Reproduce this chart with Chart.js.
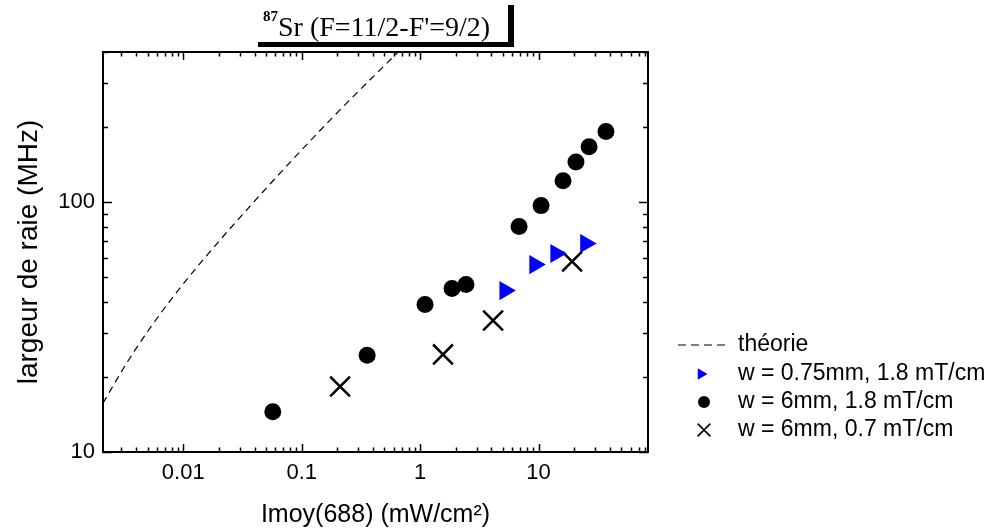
<!DOCTYPE html>
<html>
<head>
<meta charset="utf-8">
<script src="https://cdn.jsdelivr.net/npm/chart.js@4.4.0/dist/chart.umd.min.js"></script>
<style>
    html, body { margin: 0; padding: 0; background: #fff; }
    #wrap { position: relative; width: 992px; height: 532px; }
    #titre {
        position: absolute; left: 252px; top: 0; width: 256px; height: 42px;
        background: #fff; box-shadow: 6px 5px 0 #000; z-index: 2;
        font-family: "Liberation Serif", "Times New Roman", serif; color: #000;
    }
    #titre span.txt { position: absolute; left: 11px; top: 11px; font-size: 28px; line-height: 32px; white-space: nowrap; }
    #titre span.iso { font-size: 15px; font-weight: bold; position: relative; top: -15px; }
</style>
</head>
<body>
<div id="wrap">
    <div id="titre"><span class="txt"><span class="iso">87</span>Sr (F=11/2-F'=9/2)</span></div>
    <canvas id="graphe" width="992" height="532"></canvas>
</div>
<script>
// données
const theorieX = [0.0021, 0.00329, 0.00525, 0.0094, 0.0159, 0.0541, 0.184, 0.652];
const theorieY = [15.7, 22.5, 31.4, 45.4, 61.5, 118.4, 219.6, 400];

const triX = [5.2, 9.3, 14.0, 25.0];
const triY = [44.3, 56.3, 62.4, 68.4];

const cercleX = [0.057, 0.357, 1.10, 1.86, 2.44, 6.85, 10.5, 16.1, 20.7, 26.7, 37.1];
const cercleY = [14.5, 24.4, 39.0, 45.2, 46.9, 80.0, 97, 122, 145, 167, 192];

const croixX = [0.211, 1.56, 4.13, 19.2];
const croixY = [18.3, 24.6, 33.6, 57.9];

const xTicks = [0.01, 0.1, 1, 10];
const xTickLabels = ['0.01', '0.1', '1', '10'];
const yTicks = [10, 100];
const yTickLabels = ['10', '100'];

const legendes = ['théorie', 'w = 0.75mm, 1.8 mT/cm', 'w = 6mm, 1.8 mT/cm', 'w = 6mm, 0.7 mT/cm'];

const police = '"Liberation Sans", Arial, sans-serif';
const pts = (xs, ys) => xs.map((x, i) => ({ x: x, y: ys[i] }));

// graduations secondaires (2..9 dans chaque décade)
function mineures(min, max) {
    const out = [];
    for (let d = Math.floor(Math.log10(min)); d <= Math.ceil(Math.log10(max)); d++) {
        for (let k = 1; k <= 9; k++) {
            const v = k * Math.pow(10, d);
            if (v >= min && v <= max) out.push({ v: v, major: k === 1 });
        }
    }
    return out;
}

function marque(ctx, style, x, y, r) {
    ctx.beginPath();
    if (style === 'tri') {
        ctx.fillStyle = '#0000ff';
        ctx.moveTo(x + r, y);
        ctx.lineTo(x - r / 2, y - r * 0.866);
        ctx.lineTo(x - r / 2, y + r * 0.866);
        ctx.closePath();
        ctx.fill();
    } else if (style === 'rond') {
        ctx.fillStyle = '#000';
        ctx.arc(x, y, r, 0, Math.PI * 2);
        ctx.fill();
    } else {
        const d = r * 0.7071;
        ctx.strokeStyle = '#000';
        ctx.lineWidth = 1.6;
        ctx.moveTo(x - d, y - d); ctx.lineTo(x + d, y + d);
        ctx.moveTo(x - d, y + d); ctx.lineTo(x + d, y - d);
        ctx.stroke();
    }
}

const cadre = {
    id: 'cadre',
    afterDatasetsDraw(chart) {
        const { ctx, chartArea: { left, right, top, bottom }, scales: { x, y } } = chart;
        ctx.save();
        ctx.strokeStyle = '#000';
        ctx.lineWidth = 1.5;
        ctx.beginPath();
        mineures(x.min, x.max).forEach(t => {
            const px = Math.round(x.getPixelForValue(t.v)) + 0.5;
            const len = t.major ? 8 : 4.5;
            ctx.moveTo(px, bottom); ctx.lineTo(px, bottom - len);
            ctx.moveTo(px, top); ctx.lineTo(px, top + len);
        });
        mineures(y.min, y.max).forEach(t => {
            const py = Math.round(y.getPixelForValue(t.v)) + 0.5;
            const len = t.major ? 9 : 5;
            ctx.moveTo(left, py); ctx.lineTo(left + len, py);
            ctx.moveTo(right, py); ctx.lineTo(right - len, py);
        });
        ctx.stroke();
        ctx.lineWidth = 2;
        ctx.strokeRect(left, top, right - left, bottom - top);

        // légende
        const lignes = [345, 374, 402, 430];
        ctx.setLineDash([8, 5]);
        ctx.lineWidth = 1.2;
        ctx.beginPath();
        ctx.moveTo(678, lignes[0]); ctx.lineTo(728, lignes[0]);
        ctx.stroke();
        ctx.setLineDash([]);
        marque(ctx, 'tri', 701, lignes[1], 6.5);
        marque(ctx, 'rond', 704, lignes[2], 6);
        marque(ctx, 'croix', 704, lignes[3], 9);
        ctx.fillStyle = '#000';
        ctx.font = '23px ' + police;
        ctx.textBaseline = 'middle';
        ctx.textAlign = 'left';
        legendes.forEach((t, i) => ctx.fillText(t, 738, lignes[i]));
        ctx.restore();
    }
};

new Chart(document.getElementById('graphe').getContext('2d'), {
    type: 'scatter',
    data: {
        datasets: [
            { label: legendes[0], data: pts(theorieX, theorieY), showLine: true, borderColor: '#000', borderWidth: 1.2, borderDash: [7, 5], pointRadius: 0, cubicInterpolationMode: 'monotone', fill: false },
            { label: legendes[1], data: pts(triX, triY), pointStyle: 'triangle', rotation: 90, pointRadius: 11, backgroundColor: '#0000ff', borderColor: '#0000ff', borderWidth: 0 },
            { label: legendes[2], data: pts(cercleX, cercleY), pointStyle: 'circle', pointRadius: 8.5, backgroundColor: '#000', borderColor: '#000', borderWidth: 0 },
            { label: legendes[3], data: pts(croixX, croixY), pointStyle: 'crossRot', pointRadius: 14, backgroundColor: '#000', borderColor: '#000', borderWidth: 2.5 }
        ]
    },
    options: {
        responsive: false,
        animation: false,
        layout: { padding: { top: 52, right: 344, left: 0, bottom: 0 } },
        plugins: { legend: { display: false }, tooltip: { enabled: false } },
        scales: {
            x: {
                type: 'logarithmic', min: 0.0021, max: 84,
                afterFit(s) { s.height = 80; },
                afterBuildTicks(s) { s.ticks = xTicks.map(v => ({ value: v })); },
                grid: { display: false, drawTicks: false },
                border: { display: false },
                ticks: { color: '#000', font: { family: police, size: 22 }, padding: 8, autoSkip: false, maxRotation: 0, callback: (v, i) => xTickLabels[i] },
                title: { display: true, text: 'Imoy(688) (mW/cm²)', color: '#000', font: { family: police, size: 25 }, padding: { top: 0, bottom: 2 } }
            },
            y: {
                type: 'logarithmic', min: 10, max: 400,
                afterFit(s) { s.width = 103; },
                afterBuildTicks(s) { s.ticks = yTicks.map(v => ({ value: v })); },
                grid: { display: false, drawTicks: false },
                border: { display: false },
                ticks: { color: '#000', font: { family: police, size: 22 }, padding: 8, autoSkip: false, callback: (v, i) => yTickLabels[i] },
                title: { display: true, text: 'largeur de raie (MHz)', color: '#000', font: { family: police, size: 28 }, padding: { top: 12, bottom: 0 } }
            }
        }
    },
    plugins: [cadre]
});
</script>
</body>
</html>
